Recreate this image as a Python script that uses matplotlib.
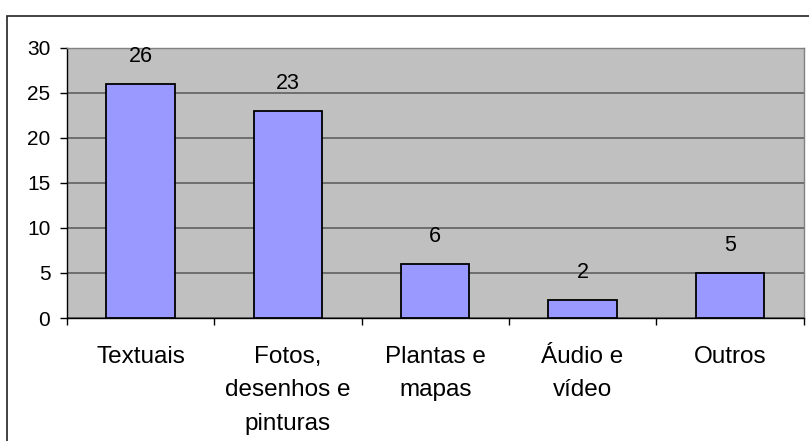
import matplotlib.pyplot as plt
from matplotlib.patches import Rectangle

categories = ['Textuais', 'Fotos,\ndesenhos e\npinturas', 'Plantas e\nmapas', 'Áudio e\nvídeo', 'Outros']
values = [26, 23, 6, 2, 5]
y_ticks = [0, 5, 10, 15, 20, 25, 30]

plt.rcParams['font.family'] = ['Liberation Sans', 'DejaVu Sans']

fig = plt.figure(figsize=(8.09, 4.41), dpi=100)
ax = fig.add_axes([67 / 809, 1 - 318 / 441, (803.5 - 67) / 809, (318 - 47.5) / 441])

# outer chart frame (runs off the right and bottom edges)
fig.patches.append(Rectangle((7.5 / 809, -0.2), 1.2, 1.2 - 15.5 / 441,
                             transform=fig.transFigure, fill=False,
                             edgecolor='#222222', linewidth=1.2))

ax.set_facecolor('#C0C0C0')
x = list(range(len(categories)))
bars = ax.bar(x, values, width=0.465, color='#9999FF', edgecolor='black',
              linewidth=1.3, zorder=3)

for xi, v in zip(x, values):
    ax.annotate(str(v), (xi, v), xytext=(0, 19.5), textcoords='offset points',
                ha='center', va='center', fontsize=15.5)

ax.set_xlim(-0.5, len(categories) - 0.5)
ax.set_ylim(0, 30)
ax.set_yticks(y_ticks)
ax.tick_params(axis='y', direction='out', length=5, width=1, labelsize=15, pad=7)
ax.yaxis.grid(True, color='#606060', linewidth=1.2)
ax.set_axisbelow(True)

ax.set_xticks(x)
ax.set_xticklabels(categories, fontsize=17.5, linespacing=1.68, va='top')
ax.tick_params(axis='x', which='major', length=0, pad=20)
ax.set_xticks([i - 0.5 for i in range(len(categories) + 1)], minor=True)
ax.tick_params(axis='x', which='minor', direction='out', length=5, width=1)

for side in ['top', 'right']:
    ax.spines[side].set_color('#808080')
    ax.spines[side].set_linewidth(1)
for side in ['left', 'bottom']:
    ax.spines[side].set_color('black')
    ax.spines[side].set_linewidth(1)

fig.savefig('out.png', dpi=100)
